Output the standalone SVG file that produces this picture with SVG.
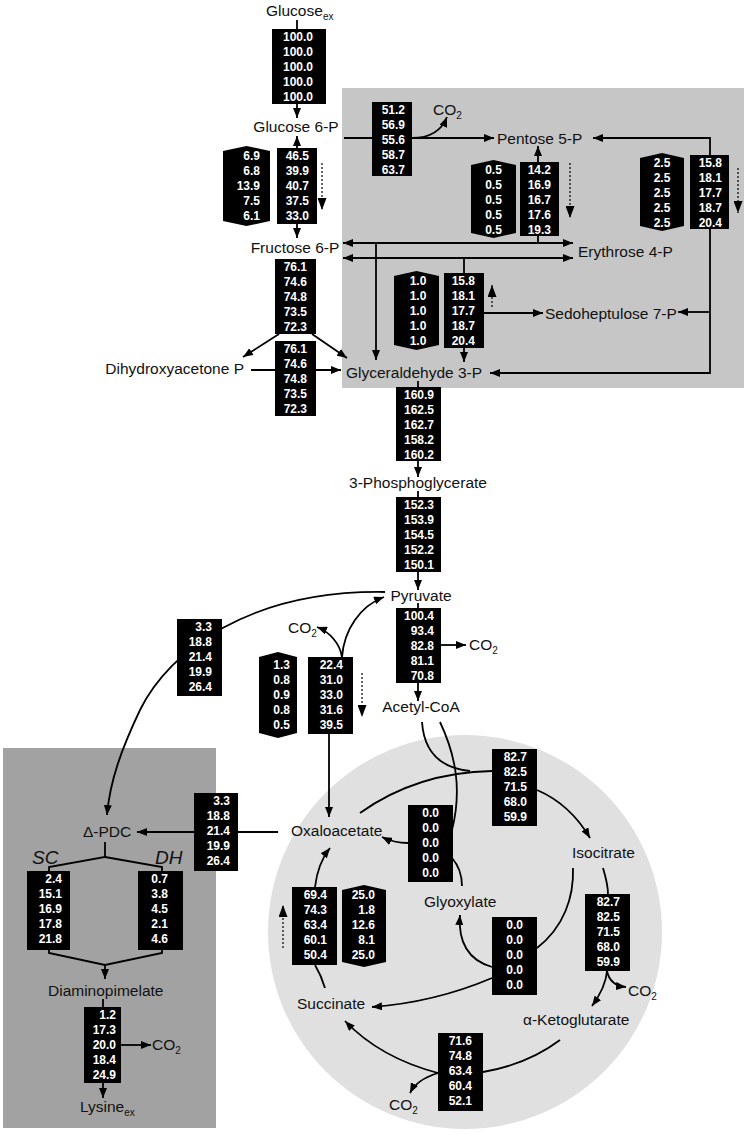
<svg xmlns="http://www.w3.org/2000/svg" width="745" height="1135" viewBox="0 0 745 1135">
<style>
.lbl{font-family:"Liberation Sans",Arial,sans-serif;font-size:15.5px;fill:#111}
.sub{font-size:10px}
.it{font-family:"Liberation Sans",Arial,sans-serif;font-size:19px;font-style:italic;fill:#111}
.b{fill:#000}
.n{font-family:"Liberation Sans",Arial,sans-serif;font-size:12px;font-weight:bold;fill:#fff;text-anchor:end}
.nm{font-family:"Liberation Sans",Arial,sans-serif;font-size:12px;font-weight:bold;fill:#fff;text-anchor:middle}
#connectors path{fill:none;stroke:#000;stroke-width:1.8}
#connectors path.ar{marker-end:url(#ah)}
#connectors path.ar2{marker-start:url(#ah);marker-end:url(#ah)}
#connectors path.dot{stroke-width:1.2;stroke-dasharray:2 2;marker-end:url(#ahd)}
</style>
<defs>
<marker id="ah" viewBox="0 0 10 8" refX="10" refY="4" markerWidth="10" markerHeight="8" markerUnits="userSpaceOnUse" orient="auto-start-reverse"><path d="M0,0L10,4L0,8z" fill="#000"/></marker>
<marker id="ahd" viewBox="0 0 12 9" refX="12" refY="4.5" markerWidth="12" markerHeight="9" markerUnits="userSpaceOnUse" orient="auto"><path d="M0,0L12,4.5L0,9z" fill="#000"/></marker>
</defs>
<rect width="745" height="1135" fill="#fff"/>
<g id="backgrounds">
<rect x="342" y="88" width="402" height="300" fill="#c6c6c6"/>
<rect x="3" y="748" width="213" height="380" fill="#a2a2a2"/>
<circle cx="465" cy="932" r="197" fill="#e0e0e0"/>
</g>
<g id="connectors">
<path d="M297,20V29"/>
<path class="ar" d="M297,103V118"/>
<path class="ar" d="M297,148V136"/>
<path class="ar" d="M297,224V238"/>
<path class="ar" d="M344,138H494"/>
<path class="ar" d="M412,138C428,138 441,132 447,117"/>
<path class="ar" d="M710,155V138H593"/>
<path class="ar" d="M538,162V146"/>
<path d="M538,236V243"/>
<path class="ar2" d="M343,243H573"/>
<path class="ar2" d="M343,258H573"/>
<path class="ar" d="M376,243V360"/>
<path d="M464,258V273"/>
<path class="ar" d="M464,348V362"/>
<path class="ar" d="M484,313H543"/>
<path class="ar" d="M710,229V373H490"/>
<path class="ar" d="M710,312H678"/>
<path class="ar" d="M279,334L243,357"/>
<path class="ar" d="M312,334L347,358"/>
<path class="ar" d="M251,370H341"/>
<path d="M418,381V387"/>
<path class="ar" d="M418,461V477"/>
<path d="M418,491V497"/>
<path class="ar" d="M418,572V590"/>
<path d="M418,603V608"/>
<path class="ar" d="M441,645H466"/>
<path class="ar" d="M418,683V701"/>
<path class="ar" d="M385,592C250,590 170,650 140,710C122,748 110,780 107,815"/>
<path class="ar" d="M342,657C344,630 360,606 384,597"/>
<path class="ar" d="M342,657C340,644 330,632 317,627"/>
<path class="ar" d="M329,734V817"/>
<path d="M278,832H238"/>
<path class="ar" d="M194,832H137"/>
<path d="M105,842V857L49,867V871M105,857L162,867V871"/>
<path d="M49,950V953L105,965L162,953V950"/>
<path class="ar" d="M105,965V979"/>
<path d="M103,999V1007"/>
<path class="ar" d="M121,1045H151"/>
<path class="ar" d="M103,1083V1098"/>
<path d="M360,813C395,788 440,772 492,771"/>
<path class="ar" d="M537,790C558,799 577,816 590,838"/>
<path d="M422,722C424,752 440,768 470,771"/>
<path d="M440,722C456,756 462,790 452,830"/>
<path d="M452,858C459,866 462,876 462,886"/>
<path class="ar" d="M408,843C398,843 390,841 382,837"/>
<path d="M573,868C574,897 564,927 537,948"/>
<path class="ar" d="M492,967C468,960 458,942 460,915"/>
<path class="ar" d="M492,978C452,995 412,1004 372,1007"/>
<path d="M603,868C606,878 608,886 608,894"/>
<path class="ar" d="M607,971C606,984 600,995 592,1006"/>
<path class="ar" d="M607,971C609,981 615,986 626,987"/>
<path d="M560,1040C540,1055 512,1067 483,1072"/>
<path class="ar" d="M438,1073C400,1063 368,1045 345,1021"/>
<path class="ar" d="M438,1073C425,1077 415,1083 410,1093"/>
<path d="M325,988C322,978 318,970 315,965"/>
<path class="ar" d="M315,887C317,870 322,858 330,848"/>
<path class="dot" d="M322,163V210"/>
<path class="dot" d="M570,163V218"/>
<path class="dot" d="M738,168V213"/>
<path class="dot" d="M492,307V285"/>
<path class="dot" d="M362,673V717"/>
<path class="dot" d="M283,948V905"/>
</g>
<g id="metabolites">
<g id="glucose-ex"><text class="lbl" x="266" y="16">Glucose<tspan class="sub" dy="4">ex</tspan></text></g>
<g id="glucose-6p"><text class="lbl" x="296" y="132" text-anchor="middle">Glucose 6-P</text></g>
<g id="fructose-6p"><text class="lbl" x="295" y="253" text-anchor="middle">Fructose 6-P</text></g>
<g id="dhap"><text class="lbl" x="244" y="374" text-anchor="end">Dihydroxyacetone P</text></g>
<g id="pentose-5p"><text class="lbl" x="497" y="144">Pentose 5-P</text></g>
<g id="erythrose-4p"><text class="lbl" x="578" y="257">Erythrose 4-P</text></g>
<g id="sedoheptulose-7p"><text class="lbl" x="545" y="319">Sedoheptulose 7-P</text></g>
<g id="gap"><text class="lbl" x="346" y="378">Glyceraldehyde 3-P</text></g>
<g id="pga"><text class="lbl" x="418" y="488" text-anchor="middle">3-Phosphoglycerate</text></g>
<g id="pyruvate"><text class="lbl" x="421" y="601" text-anchor="middle">Pyruvate</text></g>
<g id="acetyl-coa"><text class="lbl" x="421" y="712" text-anchor="middle">Acetyl-CoA</text></g>
<g id="oxaloacetate"><text class="lbl" x="291" y="836">Oxaloacetate</text></g>
<g id="isocitrate"><text class="lbl" x="572" y="858">Isocitrate</text></g>
<g id="glyoxylate"><text class="lbl" x="424" y="907">Glyoxylate</text></g>
<g id="succinate"><text class="lbl" x="297" y="1009">Succinate</text></g>
<g id="akg"><text class="lbl" x="523" y="1025">α-Ketoglutarate</text></g>
<g id="pdc"><text class="lbl" x="83" y="837">Δ-PDC</text></g>
<g id="sc"><text class="it" x="32" y="864">SC</text></g>
<g id="dh"><text class="it" x="155" y="864">DH</text></g>
<g id="dap"><text class="lbl" x="48" y="996">Diaminopimelate</text></g>
<g id="lysine-ex"><text class="lbl" x="80" y="1112">Lysine<tspan class="sub" dy="4">ex</tspan></text></g>
<g id="co2-ppp"><text class="lbl" x="433" y="115">CO<tspan class="sub" dy="4">2</tspan></text></g>
<g id="co2-pdh"><text class="lbl" x="469" y="650">CO<tspan class="sub" dy="4">2</tspan></text></g>
<g id="co2-pepck"><text class="lbl" x="288" y="633">CO<tspan class="sub" dy="4">2</tspan></text></g>
<g id="co2-lys"><text class="lbl" x="152" y="1050">CO<tspan class="sub" dy="4">2</tspan></text></g>
<g id="co2-icd"><text class="lbl" x="628" y="996">CO<tspan class="sub" dy="4">2</tspan></text></g>
<g id="co2-kgd"><text class="lbl" x="389" y="1110">CO<tspan class="sub" dy="4">2</tspan></text></g>
</g>
<g id="fluxes">
<g id="f-uptake"><rect class="b" x="272" y="29" width="54" height="75"/><text class="n"><tspan x="313" y="40.5">100.0</tspan><tspan x="313" y="55.5">100.0</tspan><tspan x="313" y="70.5">100.0</tspan><tspan x="313" y="85.5">100.0</tspan><tspan x="313" y="100.5">100.0</tspan></text></g>
<g id="f-pgi"><rect class="b" x="277" y="148" width="40" height="76"/><text class="n"><tspan x="309" y="159.5">46.5</tspan><tspan x="309" y="174.5">39.9</tspan><tspan x="309" y="189.5">40.7</tspan><tspan x="309" y="204.5">37.5</tspan><tspan x="309" y="219.5">33.0</tspan></text></g>
<g id="x-pgi"><polygon class="b" points="223,151 246.5,146 270,151 270,221 246.5,226 223,221"/><text class="n"><tspan x="260" y="159.5">6.9</tspan><tspan x="260" y="174.5">6.8</tspan><tspan x="260" y="189.5">13.9</tspan><tspan x="260" y="204.5">7.5</tspan><tspan x="260" y="219.5">6.1</tspan></text></g>
<g id="f-pfk"><rect class="b" x="275" y="259" width="41" height="75"/><text class="n"><tspan x="307" y="270.5">76.1</tspan><tspan x="307" y="285.5">74.6</tspan><tspan x="307" y="300.5">74.8</tspan><tspan x="307" y="315.5">73.5</tspan><tspan x="307" y="330.5">72.3</tspan></text></g>
<g id="f-tpi"><rect class="b" x="275" y="341" width="41" height="75"/><text class="n"><tspan x="307" y="352.5">76.1</tspan><tspan x="307" y="367.5">74.6</tspan><tspan x="307" y="382.5">74.8</tspan><tspan x="307" y="397.5">73.5</tspan><tspan x="307" y="412.5">72.3</tspan></text></g>
<g id="f-g6pdh"><rect class="b" x="372" y="102" width="40" height="74"/><text class="n"><tspan x="405" y="113.5">51.2</tspan><tspan x="405" y="128.5">56.9</tspan><tspan x="405" y="143.5">55.6</tspan><tspan x="405" y="158.5">58.7</tspan><tspan x="405" y="173.5">63.7</tspan></text></g>
<g id="f-tk1"><rect class="b" x="520" y="162" width="39" height="74"/><text class="n"><tspan x="551" y="173.5">14.2</tspan><tspan x="551" y="188.5">16.9</tspan><tspan x="551" y="203.5">16.7</tspan><tspan x="551" y="218.5">17.6</tspan><tspan x="551" y="233.5">19.3</tspan></text></g>
<g id="x-tk1"><polygon class="b" points="471,165 493.5,160 516,165 516,233 493.5,238 471,233"/><text class="nm"><tspan x="493.5" y="173.5">0.5</tspan><tspan x="493.5" y="188.5">0.5</tspan><tspan x="493.5" y="203.5">0.5</tspan><tspan x="493.5" y="218.5">0.5</tspan><tspan x="493.5" y="233.5">0.5</tspan></text></g>
<g id="f-tk2"><rect class="b" x="690" y="155" width="39" height="74"/><text class="n"><tspan x="722" y="166.5">15.8</tspan><tspan x="722" y="181.5">18.1</tspan><tspan x="722" y="196.5">17.7</tspan><tspan x="722" y="211.5">18.7</tspan><tspan x="722" y="226.5">20.4</tspan></text></g>
<g id="x-tk2"><polygon class="b" points="640,158 662,153 684,158 684,226 662,231 640,226"/><text class="nm"><tspan x="662" y="166.5">2.5</tspan><tspan x="662" y="181.5">2.5</tspan><tspan x="662" y="196.5">2.5</tspan><tspan x="662" y="211.5">2.5</tspan><tspan x="662" y="226.5">2.5</tspan></text></g>
<g id="f-ta"><rect class="b" x="444" y="273" width="40" height="75"/><text class="n"><tspan x="475" y="284.5">15.8</tspan><tspan x="475" y="299.5">18.1</tspan><tspan x="475" y="314.5">17.7</tspan><tspan x="475" y="329.5">18.7</tspan><tspan x="475" y="344.5">20.4</tspan></text></g>
<g id="x-ta"><polygon class="b" points="394,276 416.5,271 439,276 439,345 416.5,350 394,345"/><text class="nm"><tspan x="418" y="284.5">1.0</tspan><tspan x="418" y="299.5">1.0</tspan><tspan x="418" y="314.5">1.0</tspan><tspan x="418" y="329.5">1.0</tspan><tspan x="418" y="344.5">1.0</tspan></text></g>
<g id="f-gapdh"><rect class="b" x="396" y="387" width="45" height="74"/><text class="n"><tspan x="434" y="398.5">160.9</tspan><tspan x="434" y="413.5">162.5</tspan><tspan x="434" y="428.5">162.7</tspan><tspan x="434" y="443.5">158.2</tspan><tspan x="434" y="458.5">160.2</tspan></text></g>
<g id="f-eno"><rect class="b" x="396" y="497" width="45" height="75"/><text class="n"><tspan x="434" y="508.5">152.3</tspan><tspan x="434" y="523.5">153.9</tspan><tspan x="434" y="538.5">154.5</tspan><tspan x="434" y="553.5">152.2</tspan><tspan x="434" y="568.5">150.1</tspan></text></g>
<g id="f-pdh"><rect class="b" x="396" y="608" width="45" height="75"/><text class="n"><tspan x="434" y="619.5">100.4</tspan><tspan x="434" y="634.5">93.4</tspan><tspan x="434" y="649.5">82.8</tspan><tspan x="434" y="664.5">81.1</tspan><tspan x="434" y="679.5">70.8</tspan></text></g>
<g id="f-dhdps-pyr"><rect class="b" x="177" y="619" width="45" height="77"/><text class="n"><tspan x="212" y="631">3.3</tspan><tspan x="212" y="646">18.8</tspan><tspan x="212" y="661">21.4</tspan><tspan x="212" y="676">19.9</tspan><tspan x="212" y="691">26.4</tspan></text></g>
<g id="f-pyc"><rect class="b" x="308" y="657" width="45" height="77"/><text class="n"><tspan x="343" y="669">22.4</tspan><tspan x="343" y="684">31.0</tspan><tspan x="343" y="699">33.0</tspan><tspan x="343" y="714">31.6</tspan><tspan x="343" y="729">39.5</tspan></text></g>
<g id="x-pyc"><polygon class="b" points="259,657 278,652 297,657 297,733 278,738 259,733"/><text class="n"><tspan x="290" y="669">1.3</tspan><tspan x="290" y="684">0.8</tspan><tspan x="290" y="699">0.9</tspan><tspan x="290" y="714">0.8</tspan><tspan x="290" y="729">0.5</tspan></text></g>
<g id="f-dhdps-oaa"><rect class="b" x="194" y="793" width="44" height="78"/><text class="n"><tspan x="230" y="805">3.3</tspan><tspan x="230" y="820">18.8</tspan><tspan x="230" y="835">21.4</tspan><tspan x="230" y="850">19.9</tspan><tspan x="230" y="865">26.4</tspan></text></g>
<g id="f-sc"><rect class="b" x="27" y="871" width="43" height="79"/><text class="n"><tspan x="62" y="883">2.4</tspan><tspan x="62" y="898">15.1</tspan><tspan x="62" y="913">16.9</tspan><tspan x="62" y="928">17.8</tspan><tspan x="62" y="943">21.8</tspan></text></g>
<g id="f-dh"><rect class="b" x="138" y="871" width="45" height="79"/><text class="n"><tspan x="168" y="883">0.7</tspan><tspan x="168" y="898">3.8</tspan><tspan x="168" y="913">4.5</tspan><tspan x="168" y="928">2.1</tspan><tspan x="168" y="943">4.6</tspan></text></g>
<g id="f-lysa"><rect class="b" x="84" y="1007" width="37" height="76"/><text class="n"><tspan x="116" y="1019">1.2</tspan><tspan x="116" y="1034">17.3</tspan><tspan x="116" y="1049">20.0</tspan><tspan x="116" y="1064">18.4</tspan><tspan x="116" y="1079">24.9</tspan></text></g>
<g id="f-cs"><rect class="b" x="492" y="749" width="45" height="77"/><text class="n"><tspan x="527" y="761">82.7</tspan><tspan x="527" y="776">82.5</tspan><tspan x="527" y="791">71.5</tspan><tspan x="527" y="806">68.0</tspan><tspan x="527" y="821">59.9</tspan></text></g>
<g id="f-ms"><rect class="b" x="408" y="805" width="45" height="77"/><text class="n"><tspan x="439" y="817">0.0</tspan><tspan x="439" y="832">0.0</tspan><tspan x="439" y="847">0.0</tspan><tspan x="439" y="862">0.0</tspan><tspan x="439" y="877">0.0</tspan></text></g>
<g id="f-icl"><rect class="b" x="492" y="917" width="45" height="78"/><text class="n"><tspan x="523" y="929">0.0</tspan><tspan x="523" y="944">0.0</tspan><tspan x="523" y="959">0.0</tspan><tspan x="523" y="974">0.0</tspan><tspan x="523" y="989">0.0</tspan></text></g>
<g id="f-icd"><rect class="b" x="585" y="894" width="45" height="77"/><text class="n"><tspan x="620" y="906">82.7</tspan><tspan x="620" y="921">82.5</tspan><tspan x="620" y="936">71.5</tspan><tspan x="620" y="951">68.0</tspan><tspan x="620" y="966">59.9</tspan></text></g>
<g id="f-kgd"><rect class="b" x="438" y="1033" width="45" height="78"/><text class="n"><tspan x="472" y="1045">71.6</tspan><tspan x="472" y="1060">74.8</tspan><tspan x="472" y="1075">63.4</tspan><tspan x="472" y="1090">60.4</tspan><tspan x="472" y="1105">52.1</tspan></text></g>
<g id="f-sdh"><rect class="b" x="292" y="887" width="45" height="78"/><text class="n"><tspan x="327" y="899">69.4</tspan><tspan x="327" y="914">74.3</tspan><tspan x="327" y="929">63.4</tspan><tspan x="327" y="944">60.1</tspan><tspan x="327" y="959">50.4</tspan></text></g>
<g id="x-sdh"><polygon class="b" points="342,890 364,885 386,890 386,962 364,967 342,962"/><text class="n"><tspan x="375" y="899">25.0</tspan><tspan x="375" y="914">1.8</tspan><tspan x="375" y="929">12.6</tspan><tspan x="375" y="944">8.1</tspan><tspan x="375" y="959">25.0</tspan></text></g>
</g>
</svg>
